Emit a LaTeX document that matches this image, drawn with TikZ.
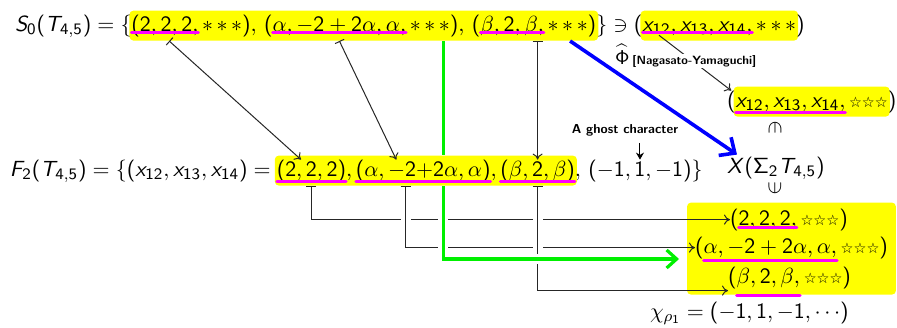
\documentclass[tikz,border=0pt]{standalone}
\usepackage[no-math]{fontspec}
\usetikzlibrary{arrows.meta,calc,fit,backgrounds}
\newfontfamily\djv{DejaVu Sans}
\SetSymbolFont{operators}{normal}{OT1}{cmss}{m}{n}
\DeclareSymbolFont{sfit}{OT1}{cmss}{m}{sl}
\DeclareMathSymbol{S}{\mathalpha}{sfit}{83}
\DeclareMathSymbol{T}{\mathalpha}{sfit}{84}
\DeclareMathSymbol{F}{\mathalpha}{sfit}{70}
\DeclareMathSymbol{X}{\mathalpha}{sfit}{88}
\DeclareMathSymbol{x}{\mathalpha}{sfit}{120}
\newcommand{\sss}{{*}\,{*}\,{*}}
\newcommand{\wst}{\hbox{\djv\fontsize{7.2}{8}\selectfont ☆☆☆}}
\definecolor{hlyellow}{RGB}{255,255,0}
\definecolor{ulmag}{RGB}{255,0,255}
\definecolor{glgreen}{RGB}{0,240,0}
\definecolor{lnblue}{RGB}{0,0,255}
\begin{document}
\begin{tikzpicture}[x=0.5pt,y=-0.5pt,
  every node/.style={font=\fontsize{10.95}{13}\selectfont},
  frag/.style={inner sep=0pt,outer sep=0pt,anchor=base west},
  par/.style={frag,text height=8.2pt,text depth=2.8pt},
  ul/.style={draw=ulmag,line width=1.5pt,line cap=round},
  hl/.style={fill=hlyellow,rounded corners=2pt,inner xsep=1pt,inner ysep=2pt},
  con/.style={draw=black!85,line width=0.5pt,-{To[length=3pt,width=5pt]}},
  bcon/.style={draw=black!85,line width=0.5pt,{Bar[width=5pt]}-{To[length=3pt,width=5pt]}},
  gap/.style={draw=white,line width=5pt},
  gline/.style={draw=glgreen,line width=1.6pt},
]
\useasboundingbox (0,0) rectangle (897,327);

% ---- row 1
\node[frag] (r1a) at (15,31) {$S_0(T_{4,5})=\{$};
\node[par] (r1b) at (r1a.base east) {$($};
\node[frag] (r1c) at (r1b.base east) {$2,2,2,$};
\node[par] (r1d) at (r1c.base east) {$\,\sss),\,($};
\node[frag] (r1e) at (r1d.base east) {$\alpha,-2+2\alpha,\alpha,$};
\node[par] (r1f) at (r1e.base east) {$\,\sss),\,($};
\node[frag] (r1g) at (r1f.base east) {$\beta,2,\beta,$};
\node[par] (r1h) at (r1g.base east) {$\,\sss)$};
\node[par] (r1i) at (r1h.base east) {$\}\ni($};
\node[frag] (r1j) at (r1i.base east) {$x_{12},x_{13},x_{14},$};
\node[par] (r1k) at (r1j.base east) {$\,\sss$};
\node[par] (r1l) at (r1k.base east) {$)$};

% ---- row 2
\node[frag] (r2a) at (10,176) {$F_2(T_{4,5})=\{(x_{12},x_{13},x_{14})=\;$};
\node[par] (r2b) at (r2a.base east) {$(2,2,2)$};
\node[par] (r2c) at (r2b.base east) {$,\,$};
\node[par] (r2d) at (r2c.base east) {$(\alpha,-2{+}2\alpha,\alpha)$};
\node[par] (r2e) at (r2d.base east) {$,\,$};
\node[par] (r2f) at (r2e.base east) {$(\beta,2,\beta)$};
\node[par] (r2g) at (r2f.base east) {$,\,(-1,\,$};
\node[par] (r2h) at (r2g.base east) {$1$};
\node[par] (r2i) at (r2h.base east) {$,-1)\}$};

\node[font=\fontsize{6.5}{7}\selectfont\sffamily\bfseries] (ghost) at (625,130) {A ghost character};

% ---- right column
\node[frag] (xs) at (727,173) {$X(\Sigma_2T_{4,5})$};
\node (inup) at (775,128) {\rotatebox{-90}{$\in$}};
\node (indn) at (775,188) {\rotatebox{90}{$\in$}};

\node[par] (xbp) at (727,107) {$($};
\node[frag] (xbu) at (xbp.base east) {$x_{12},x_{13},x_{14},$};
\node[par] (xbs) at (xbu.base east) {$\,\wst$};
\node[par] (xbq) at (xbs.base east) {$)$};

\node[par] (L1p) at (730,225) {$($};
\node[frag] (L1u) at (L1p.base east) {$2,2,2,$};
\node[par] (L1s) at (L1u.base east) {$\,\wst)$};
\node[par] (L2p) at (695,253) {$($};
\node[frag] (L2u) at (L2p.base east) {$\alpha,-2+2\alpha,\alpha,$};
\node[par] (L2s) at (L2u.base east) {$\,\wst)$};
\node[par] (L3p) at (728,283) {$($};
\node[frag] (L3u) at (L3p.base east) {$\beta,2,\beta,$};
\node[par] (L3s) at (L3u.base east) {$\,\wst)$};

\node[frag] (chi) at (650,318) {$\chi_{\rho_1}=(-1,1,-1,\cdots)$};

% ---- highlights
\begin{scope}[on background layer]
\node[hl,fit=(r1b)(r1c)(r1d)(r1e)(r1f)(r1g)(r1h)] (hl1) {};
\node[hl,fit=(r1j)(r1k)] (hl1b) {};
\node[hl,fit=(r2b)(r2c)(r2d)(r2e)(r2f)] (hl2) {};
\node[hl,fit=(xbu)(xbs)] (hlx) {};
\node[hl,inner xsep=4pt,inner ysep=3pt,fit=(L1p)(L2p)(L3p)(L1s)(L2s)(L3s)(L3u)] (hl3) {};
\end{scope}

% underlines
\newcommand\ulin[3]{\draw[ul] ($(#1.base west)+(0,-#3)$) -- ($(#2.base east)+(0,-#3)$);}
\ulin{r1b}{r1c}{0.8pt}
\ulin{r1e}{r1e}{0.8pt}
\ulin{r1g}{r1g}{0.8pt}
\ulin{r1j}{r1j}{0.8pt}
\ulin{r2b}{r2b}{2.5pt}
\ulin{r2d}{r2d}{2.5pt}
\ulin{r2f}{r2f}{2.5pt}
\ulin{xbu}{xbu}{2.5pt}
\ulin{L1u}{L1u}{1pt}
\ulin{L2u}{L2u}{3.5pt}
\ulin{L3u}{L3u}{6pt}

% ---- connectors row 1 -> row 2
\draw[bcon] (r1c.south |- hl1.south) -- ($(r2b.north west)!0.35!(r2b.north east)$);
\draw[bcon] (r1e.south |- hl1.south) -- ($(r2d.north west)!0.3!(r2d.north east)$);
\draw[bcon] (r2f.north |- hl1.south) -- (r2f.north);
\draw[gline] (r1f.south |- hl1.south) -- (r1f.south |- hl2.north);

% ghost
\draw[draw=black,line width=0.5pt,-{Stealth[length=3.5pt,width=4pt]}] (ghost.south -| r2h.north) -- (r2h.north);

% ---- row 2 -> bottom box
\coordinate (ast) at (r2b.south |- hl2.south);
\coordinate (bst) at ($(r2d.south west)!0.37!(r2d.south east)$);
\coordinate (cst) at (r2f.south |- hl2.south);
\coordinate (gst) at (r1f.south |- hl2.south);
\coordinate (gtip) at ($(L2p.base west)+(-8pt,-3pt)$);
\draw[bcon] (ast) |- (L1p.west);
\draw[gap] ($(bst |- hl2.south)+(0,-6pt)$) -- (bst |- L2p.west);
\draw[bcon] (bst |- hl2.south) |- (L2p.west);
\draw[gap] ($(cst)+(0,-6pt)$) -- (cst |- L3p.south);
\draw[bcon] (cst) |- ($(L3p.south west)+(0,-1pt)$);
\draw[gap] ($(gst)+(0,-4pt)$) |- ($(gtip)+(-30pt,0)$);
\draw[gline,-{Straight Barb[length=5pt,width=9pt]}] (gst) |- (gtip);

% ---- right side arrows
\draw[con] ($(r1j.south west)!0.15!(r1j.south east)$) -- (xbp.north);
\draw[draw=lnblue,line width=1.8pt,-{Straight Barb[length=6pt,width=11pt]}] (r1h.south |- hl1.south) -- ($(xs.north west)+(5pt,1pt)$);
\node[fill=white,inner sep=0.5pt,font=\fontsize{10}{12}\selectfont,anchor=base east] (phihat) at (631,64) {$\widehat{\Phi}$};
\node[fill=white,inner sep=0.5pt,font=\fontsize{6}{7}\selectfont\sffamily\bfseries,anchor=base west] (phitext) at (phihat.base east) {[Nagasato-Yamaguchi]};
\end{tikzpicture}
\end{document}
